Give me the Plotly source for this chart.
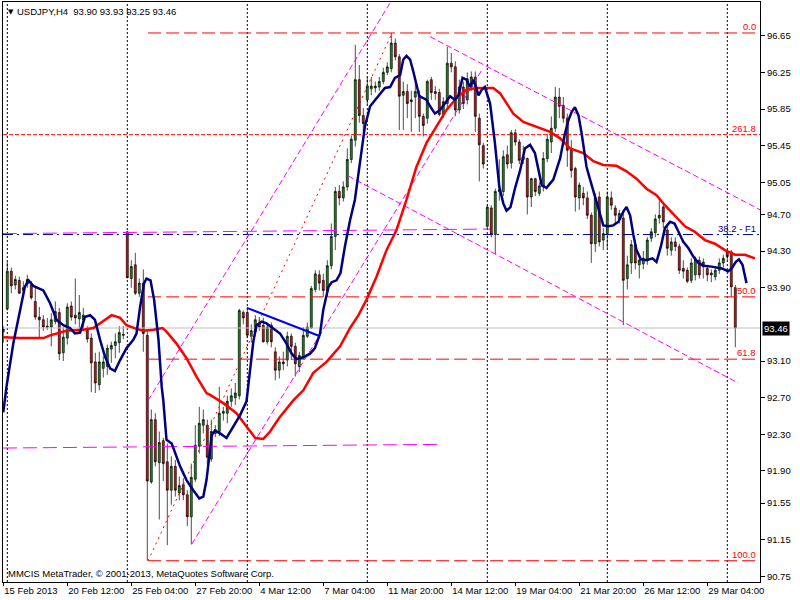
import plotly.graph_objects as go

# ---------------- candle data (USDJPY H4), one value per bar ----------------
open_px = [
    93.42, 93.67, 94.08, 93.93, 93.98, 93.87, 93.94, 93.93, 93.75, 93.58,
    93.55, 93.48, 93.47, 93.53, 93.63, 93.19, 93.35, 93.70, 93.60, 93.56,
    93.55, 93.44, 93.35, 93.09, 92.84, 93.02, 93.04, 93.23, 93.27, 93.30,
    93.38, 94.51, 94.00, 94.15, 93.84, 93.95, 93.38, 91.78, 92.46, 91.99,
    92.23, 92.00, 91.69, 91.95, 91.66, 91.75, 91.64, 91.40, 91.81, 92.17,
    92.40, 92.40, 92.03, 92.31, 92.33, 92.53, 92.53, 92.66, 92.70, 92.72,
    93.63, 93.63, 93.37, 93.42, 93.51, 93.49, 93.31, 93.49, 93.20, 93.00,
    93.09, 93.11, 93.37, 93.26, 93.04, 93.15, 93.37, 93.46, 93.88, 94.04,
    93.98, 93.87, 94.14, 94.46, 94.95, 94.88, 95.00, 95.30, 95.51, 96.17,
    95.78, 95.95, 96.07, 96.08, 96.09, 96.15, 96.25, 96.29, 96.57, 96.42,
    96.00, 96.04, 95.93, 95.98, 96.00, 95.77, 95.75, 96.17, 96.04, 96.03,
    95.79, 95.91, 96.35, 96.31, 95.84, 96.09, 95.95, 96.09, 96.20, 95.75,
    95.45, 94.57, 94.77, 94.48, 94.95, 94.95, 95.35, 95.26, 95.59, 95.49,
    95.33, 95.31, 94.89, 95.09, 94.93, 95.00, 95.31, 95.49, 95.64, 95.98,
    95.89, 95.75, 95.40, 95.20, 94.88, 94.93, 94.88, 94.69, 94.38, 94.89,
    94.42, 94.49, 94.88, 94.77, 94.64, 94.66, 94.00, 94.17, 94.37, 94.15,
    94.16, 94.20, 94.44, 94.50, 94.66, 94.78, 94.53, 94.31, 94.40, 94.35,
    94.11, 94.09, 93.98, 94.04, 94.20, 94.13, 94.11, 94.06, 94.02, 94.09,
    94.17, 94.29, 94.29, 93.90,
]
high_px = [
    93.48, 94.18, 94.12, 94.03, 94.02, 93.97, 94.04, 93.97, 93.90, 93.69,
    93.60, 93.57, 93.62, 93.75, 93.68, 93.47, 93.73, 93.75, 94.00, 93.82,
    93.68, 93.48, 93.40, 93.19, 93.20, 93.15, 93.28, 93.31, 93.40, 93.48,
    93.48, 94.52, 94.20, 94.28, 94.00, 94.10, 93.44, 92.57, 92.53, 92.33,
    92.26, 92.20, 92.06, 92.02, 91.84, 91.82, 91.69, 91.98, 92.40, 92.60,
    92.57, 92.46, 92.46, 92.40, 92.82, 92.60, 92.72, 92.80, 92.86, 93.67,
    93.65, 93.66, 93.50, 93.60, 93.58, 93.57, 93.50, 93.52, 93.25, 93.15,
    93.20, 93.42, 93.40, 93.30, 93.20, 93.47, 93.52, 93.92, 94.09, 94.09,
    94.05, 94.20, 94.60, 95.00, 95.02, 95.06, 95.42, 95.56, 96.55, 96.33,
    95.86, 96.20, 96.20, 96.15, 96.20, 96.30, 96.36, 96.68, 96.62, 96.45,
    96.15, 96.12, 96.05, 96.15, 96.05, 95.80, 96.17, 96.20, 96.10, 96.07,
    95.98, 96.53, 96.46, 96.37, 96.17, 96.15, 96.25, 96.26, 96.26, 95.80,
    95.48, 94.80, 94.80, 94.98, 95.30, 95.40, 95.45, 95.62, 95.63, 95.52,
    95.45, 95.32, 95.10, 95.10, 95.05, 95.38, 95.58, 95.77, 96.09, 96.08,
    95.98, 95.80, 95.51, 95.22, 95.05, 95.00, 94.95, 94.72, 94.93, 94.95,
    94.55, 94.95, 94.95, 94.80, 94.75, 94.73, 94.25, 94.42, 94.40, 94.25,
    94.30, 94.45, 94.55, 94.70, 94.88, 94.83, 94.60, 94.45, 94.45, 94.38,
    94.20, 94.12, 94.22, 94.24, 94.24, 94.22, 94.15, 94.10, 94.13, 94.22,
    94.26, 94.31, 94.31, 93.93,
]
low_px = [
    93.30, 93.65, 93.84, 93.88, 93.83, 93.82, 93.90, 93.77, 93.55, 93.35,
    93.43, 93.44, 93.26, 93.50, 93.11, 93.10, 93.28, 93.54, 93.50, 93.41,
    93.45, 93.30, 92.76, 92.75, 92.78, 92.92, 92.95, 93.08, 93.13, 93.19,
    93.34, 94.00, 93.90, 93.82, 93.80, 93.20, 90.92, 91.76, 91.95, 91.37,
    91.79, 91.09, 91.53, 91.62, 91.58, 91.58, 91.30, 91.10, 91.78, 92.09,
    92.31, 91.97, 92.00, 92.27, 92.28, 92.45, 92.42, 92.60, 92.62, 92.68,
    93.50, 93.35, 93.30, 93.38, 93.43, 93.30, 93.28, 93.25, 92.89, 92.91,
    93.00, 93.04, 93.11, 92.93, 92.98, 93.12, 93.35, 93.45, 93.85, 93.87,
    93.80, 93.80, 94.10, 94.31, 94.80, 94.84, 94.96, 95.26, 95.44, 95.70,
    95.60, 95.90, 96.00, 96.03, 96.05, 96.12, 96.22, 96.25, 96.38, 95.62,
    95.62, 95.75, 95.60, 95.75, 95.60, 95.55, 95.69, 95.95, 95.95, 95.77,
    95.75, 95.86, 96.25, 95.77, 95.80, 95.85, 95.90, 96.05, 95.60, 95.06,
    95.20, 94.53, 94.45, 94.27, 94.85, 94.90, 95.20, 95.20, 95.45, 95.25,
    95.25, 94.70, 94.78, 94.90, 94.90, 94.95, 95.27, 95.37, 95.60, 95.75,
    95.70, 95.22, 95.10, 94.73, 94.75, 94.80, 94.65, 94.17, 94.29, 94.35,
    94.31, 94.33, 94.75, 94.60, 94.60, 93.49, 93.88, 94.05, 94.10, 94.00,
    94.10, 94.15, 94.40, 94.45, 94.60, 94.55, 94.25, 94.25, 94.30, 94.05,
    94.00, 93.95, 93.95, 93.98, 94.00, 94.00, 93.97, 93.96, 93.98, 94.05,
    94.12, 94.20, 93.80, 93.25,
]
close_px = [
    93.45, 94.08, 93.92, 93.99, 93.84, 93.90, 93.99, 93.79, 93.58, 93.55,
    93.47, 93.47, 93.55, 93.64, 93.18, 93.36, 93.69, 93.58, 93.57, 93.63,
    93.60, 93.34, 93.08, 92.86, 93.09, 93.09, 93.24, 93.27, 93.31, 93.41,
    93.39, 94.01, 94.13, 93.84, 93.95, 93.40, 91.79, 92.46, 92.00, 92.21,
    91.98, 91.69, 91.95, 91.69, 91.74, 91.64, 91.40, 91.83, 92.18, 92.42,
    92.46, 92.05, 92.33, 92.35, 92.53, 92.55, 92.66, 92.72, 92.75, 93.65,
    93.57, 93.38, 93.43, 93.55, 93.47, 93.31, 93.47, 93.31, 93.00, 93.09,
    93.07, 93.37, 93.26, 93.07, 93.16, 93.38, 93.47, 93.89, 94.05, 93.95,
    93.87, 94.14, 94.46, 94.95, 94.88, 95.00, 95.30, 95.52, 96.17, 95.78,
    95.69, 96.10, 96.10, 96.10, 96.15, 96.25, 96.31, 96.57, 96.42, 95.99,
    96.04, 95.91, 95.95, 96.04, 95.77, 95.67, 96.15, 96.03, 96.02, 95.79,
    95.93, 96.35, 96.31, 95.84, 96.09, 95.91, 96.18, 96.20, 95.77, 95.46,
    95.25, 94.78, 94.48, 94.95, 94.97, 95.33, 95.25, 95.59, 95.49, 95.29,
    95.30, 94.89, 95.09, 94.95, 95.01, 95.31, 95.52, 95.64, 95.98, 95.88,
    95.75, 95.40, 95.18, 94.89, 95.02, 94.88, 94.69, 94.38, 94.88, 94.40,
    94.49, 94.89, 94.80, 94.69, 94.71, 93.98, 94.15, 94.37, 94.17, 94.20,
    94.22, 94.42, 94.51, 94.65, 94.69, 94.62, 94.33, 94.40, 94.35, 94.09,
    94.08, 93.97, 94.17, 94.21, 94.04, 94.18, 94.04, 94.04, 94.09, 94.17,
    94.22, 94.24, 93.91, 93.46,
]
bar_index = list(range(len(close_px)))

# ---------------- indicator lines ----------------
red_ma_bar = [0, 4.2, 10, 11.7, 15.8, 20, 22.5, 24.2, 27.1, 29.2, 30.8, 33.3, 35,
              37.5, 39.8, 40.8, 43.3, 45.8, 48.3, 50.8, 51.7, 55, 58.3, 60.9, 63,
              65, 66.7, 69, 72.5, 75, 77.5, 80.8, 84.2, 86.7, 88.8, 90.8, 93.3,
              95.8, 98.3, 100.8, 103.3, 105.8, 108.3, 110.8, 113.3, 115.8, 118.3,
              122.5, 124.2, 125.8, 127.5, 130, 133.3, 136.7, 139.2, 141.7, 145,
              147.5, 150, 153.3, 155.8, 158.3, 160.8, 163.3, 165.4, 167.9, 170.4,
              172.9, 175.4, 177.9, 180.4, 182.9, 185.4, 187.9]
red_ma_val = [93.36, 93.35, 93.35, 93.38, 93.43, 93.44, 93.46, 93.51, 93.60, 93.57,
              93.49, 93.45, 93.43, 93.44, 93.46, 93.42, 93.29, 93.13, 92.93, 92.75,
              92.73, 92.64, 92.53, 92.38, 92.26, 92.25, 92.33, 92.48, 92.67, 92.78,
              92.97, 93.09, 93.26, 93.46, 93.60, 93.77, 94.02, 94.31, 94.53, 94.86,
              95.22, 95.48, 95.66, 95.84, 95.97, 96.06, 96.08, 96.08, 96.02, 95.91,
              95.80, 95.71, 95.66, 95.60, 95.53, 95.42, 95.37, 95.28, 95.24, 95.23,
              95.17, 95.09, 94.98, 94.91, 94.80, 94.68, 94.57, 94.51, 94.42, 94.38,
              94.31, 94.26, 94.26, 94.22]

navy_ma_bar = [0, 0.8, 2.5, 4.2, 5.4, 6.3, 7.5, 10, 11.7, 13.3, 15, 16.7, 17.9, 19.2,
               20.4, 21.7, 22.9, 24.2, 25.4, 26.7, 27.9, 29.2, 30.8, 32.5, 33.3, 34.2,
               35.2, 35.8, 36.8, 37.7, 38.8, 39.6, 40, 40.8, 42.1, 44.2, 45.8, 47.5,
               49, 50, 50.8, 51.5, 52.1, 52.9, 54.2, 55.8, 57.5, 59.2, 60.8, 61.7,
               62.5, 63.3, 64.6, 65.8, 67.5, 69.2, 70.8, 72.1, 73.3, 75, 76.7, 77.9,
               79.2, 80, 81.3, 82.1, 83.3, 84.3, 85.4, 86.7, 87.9, 89.2, 90.4, 91.7,
               93.3, 95.4, 96.7, 97.9, 99.2, 100, 100.8, 101.7, 102.5, 103.3, 104,
               105, 105.8, 106.7, 107.9, 109.2, 110.4, 111.7, 112.9, 113.8, 114.8,
               115.8, 116.7, 117.5, 118.2, 118.8, 119.6, 120.4, 121.7, 122.9, 124,
               125, 125.8, 126.8, 127.9, 129.2, 130.4, 131.7, 132.9, 133.8, 134.6,
               135.8, 137.5, 139.2, 140.4, 141.3, 142.1, 142.9, 143.8, 144.6, 145.8,
               146.7, 147.9, 149.2, 150, 151.3, 152.5, 153.8, 155, 155.8, 156.7,
               157.5, 158.3, 159.4, 160.8, 162.3, 163.3, 164.4, 165.4, 166.7, 167.8,
               168.8, 170, 171.3, 172.5, 173.8, 175, 177.1, 179.6, 181.2, 182.1,
               183.1, 183.9, 184.8, 185.4, 185.8]
navy_ma_val = [92.54, 92.82, 93.29, 93.66, 93.91, 93.98, 93.92, 93.87, 93.73, 93.55,
               93.49, 93.46, 93.40, 93.41, 93.58, 93.60, 93.55, 93.33, 93.15, 93.02,
               92.99, 93.11, 93.24, 93.33, 93.40, 93.69, 93.95, 94.00, 93.98, 93.77,
               93.33, 92.82, 92.67, 92.24, 92.20, 91.95, 91.80, 91.69, 91.60, 91.62,
               91.80, 92.06, 92.29, 92.34, 92.31, 92.26, 92.38, 92.51, 92.66, 92.97,
               93.31, 93.49, 93.53, 93.51, 93.45, 93.40, 93.29, 93.18, 93.12, 93.14,
               93.18, 93.24, 93.40, 93.66, 93.91, 93.96, 93.98, 94.06, 94.35, 94.64,
               94.86, 95.29, 95.66, 95.88, 95.97, 96.08, 96.09, 96.19, 96.22, 96.39,
               96.43, 96.39, 96.26, 96.13, 95.99, 95.97, 95.95, 95.88, 95.80, 95.84,
               95.91, 95.99, 95.95, 96.00, 96.19, 96.17, 96.09, 96.17, 96.09, 96.00,
               96.06, 96.09, 95.91, 95.48, 95.00, 94.82, 94.74, 94.78, 94.98, 95.18,
               95.42, 95.46, 95.37, 95.18, 95.02, 94.99, 95.08, 95.31, 95.58, 95.73,
               95.82, 95.87, 95.78, 95.58, 95.22, 95.08, 94.89, 94.71, 94.58, 94.57,
               94.58, 94.62, 94.73, 94.78, 94.69, 94.48, 94.31, 94.21, 94.20, 94.22,
               94.18, 94.35, 94.55, 94.62, 94.60, 94.51, 94.40, 94.33, 94.24, 94.17,
               94.14, 94.13, 94.11, 94.08, 94.11, 94.18, 94.21, 94.15, 94.04, 93.95]

# ---------------- drawn objects (bar index, price) ----------------
trend_blue_bar = [60.9, 79.2]
trend_blue_val = [93.68, 93.37]
chan_up_a_bar = [36.2, 97.0]
chan_up_a_val = [92.67, 97.03]
chan_up_b_bar = [47.1, 119.7]
chan_up_b_val = [91.10, 96.28]
chan_dn_a_bar = [106.7, 189.2]
chan_dn_a_val = [96.64, 94.75]
chan_dn_b_bar = [86.2, 183.7]
chan_dn_b_val = [95.12, 92.86]
fib_diag_bar = [36.2, 97.2]
fib_diag_val = [90.92, 96.68]
hline_mag_hi_bar = [-0.1, 121.7]
hline_mag_hi_val = [94.49, 94.54]
hline_mag_lo_bar = [-0.1, 109.2]
hline_mag_lo_val = [92.15, 92.19]

fib_start_bar = 36.2
fib_labels = ["0.0", "50.0", "61.8", "100.0"]
fib_prices = [96.68, 93.80, 93.12, 90.92]
ext_label = "261.8"
ext_price = 95.57
f1_label = "38.2 - F1"
f1_price = 94.48
last_price = 93.46

week_start_bars = [1, 31, 61, 91, 121, 151, 181]
time_tick_bars = [0, 16, 32, 48, 64, 80, 96, 112, 128, 144, 160, 176]
time_tick_labels = ["15 Feb 2013", "20 Feb 12:00", "25 Feb 04:00", "27 Feb 20:00",
                    "4 Mar 12:00", "7 Mar 04:00", "11 Mar 20:00", "14 Mar 12:00",
                    "19 Mar 04:00", "21 Mar 20:00", "26 Mar 12:00", "29 Mar 04:00"]
price_ticks = [96.65, 96.25, 95.85, 95.45, 95.05, 94.70, 94.30, 93.90, 93.10,
               92.70, 92.30, 91.90, 91.55, 91.15, 90.75]

header_text = "USDJPY,H4  93.90 93.93 93.25 93.46"
copyright_text = "MMCIS MetaTrader, \u00a9 2001-2013, MetaQuotes Software Corp."

# ---------------- view settings ----------------
X_RANGE = [-0.075, 189.175]
Y_RANGE = [90.688, 97.018]
FONT = "Liberation Sans, Arial, sans-serif"
FS = 9.5

fig = go.Figure()

# current price line (behind candles)
fig.add_trace(go.Scatter(x=[X_RANGE[0], X_RANGE[1]], y=[last_price, last_price], mode="lines",
                         line=dict(color="#c0c0c0", width=1), hoverinfo="skip"))

fig.add_trace(go.Candlestick(
    x=bar_index, open=open_px, high=high_px, low=low_px, close=close_px,
    increasing=dict(fillcolor="#00a000", line=dict(color="black", width=0.7)),
    decreasing=dict(fillcolor="#ff0000", line=dict(color="black", width=0.7)),
    whiskerwidth=0, hoverinfo="skip"))

def line(xs, ys, color, width, dash="solid"):
    fig.add_trace(go.Scatter(x=xs, y=ys, mode="lines", hoverinfo="skip",
                             line=dict(color=color, width=width, dash=dash)))

# horizontal magenta levels
line(hline_mag_hi_bar, hline_mag_hi_val, "#ff00ff", 1, "14px,6px")
line(hline_mag_lo_bar, hline_mag_lo_val, "#ff00ff", 1, "14px,6px")
# F1 38.2 level
line([X_RANGE[0], X_RANGE[1]], [f1_price, f1_price], "#000080", 1, "10px,4px,2px,4px")
# 261.8 expansion level
line([X_RANGE[0], X_RANGE[1]], [ext_price, ext_price], "#ff0000", 1, "4px,2px")
# Fibonacci retracement levels
for p in fib_prices:
    line([fib_start_bar, X_RANGE[1]], [p, p], "#ff0000", 1, "13px,5px")
line(fib_diag_bar, fib_diag_val, "#ff0000", 1, "2px,4px")

# channels
line(chan_up_a_bar, chan_up_a_val, "#ff00ff", 1, "6px,3px")
line(chan_up_b_bar, chan_up_b_val, "#ff00ff", 1, "6px,3px")
line(chan_dn_a_bar, chan_dn_a_val, "#ff00ff", 1, "6px,3px")
line(chan_dn_b_bar, chan_dn_b_val, "#ff00ff", 1, "6px,3px")

# indicators
line(red_ma_bar, red_ma_val, "#ff0000", 2.5)
line(navy_ma_bar, navy_ma_val, "#000080", 2.5)
line(trend_blue_bar, trend_blue_val, "#0000ff", 2)

shapes = []
for b in week_start_bars:
    shapes.append(dict(type="line", xref="x", yref="paper", x0=b, x1=b, y0=0, y1=1,
                       line=dict(color="black", width=1, dash="2px,2px"), layer="below"))

annotations = []
for lab, p in zip(fib_labels, fib_prices):
    annotations.append(dict(x=X_RANGE[1] - 0.6, y=p, xref="x", yref="y", text=lab,
                            showarrow=False, xanchor="right", yanchor="bottom", yshift=-1,
                            font=dict(family=FONT, size=FS, color="#ff0000")))
annotations.append(dict(x=X_RANGE[1] - 0.6, y=ext_price, xref="x", yref="y", text=ext_label,
                        showarrow=False, xanchor="right", yanchor="bottom", yshift=-1,
                        font=dict(family=FONT, size=FS, color="#ff0000")))
annotations.append(dict(x=X_RANGE[1] - 0.6, y=f1_price, xref="x", yref="y", text=f1_label,
                        showarrow=False, xanchor="right", yanchor="bottom", yshift=-1,
                        font=dict(family=FONT, size=FS, color="#000080")))
# current price box
annotations.append(dict(x=1, y=last_price, xref="paper", yref="y", text=f"{last_price:.2f}",
                        showarrow=False, xanchor="left", yanchor="middle", xshift=2,
                        bgcolor="black", borderpad=1,
                        font=dict(family=FONT, size=FS, color="white")))
# header
annotations.append(dict(x=0, y=1, xref="paper", yref="paper", text="\u25bc",
                        showarrow=False, xanchor="left", yanchor="top", xshift=3, yshift=-4,
                        font=dict(family="DejaVu Sans", size=7, color="black")))
annotations.append(dict(x=0, y=1, xref="paper", yref="paper", text=header_text,
                        showarrow=False, xanchor="left", yanchor="top", xshift=12, yshift=-2,
                        font=dict(family=FONT, size=FS, color="black")))
annotations.append(dict(x=0, y=0, xref="paper", yref="paper", text=copyright_text,
                        showarrow=False, xanchor="left", yanchor="bottom", xshift=3, yshift=1,
                        font=dict(family=FONT, size=FS, color="black")))

fig.update_layout(
    template="none",
    width=800, height=600,
    margin=dict(l=3, r=40, t=2, b=18, pad=0),
    paper_bgcolor="white", plot_bgcolor="white",
    showlegend=False,
    font=dict(family=FONT, size=FS, color="black"),
    shapes=shapes, annotations=annotations,
    xaxis=dict(range=X_RANGE, tickvals=time_tick_bars, ticktext=time_tick_labels,
               ticks="outside", ticklen=3, tickcolor="black", ticklabelposition="outside right",
               tickangle=0, automargin=False,
               showgrid=False, zeroline=False, showline=True, linecolor="black", linewidth=1,
               mirror=True, rangeslider=dict(visible=False),
               tickfont=dict(family=FONT, size=FS, color="black")),
    yaxis=dict(range=Y_RANGE, side="right", tickvals=price_ticks,
               ticktext=[f"{v:.2f}" for v in price_ticks], automargin=False,
               ticks="outside", ticklen=4, tickcolor="black",
               showgrid=False, zeroline=False, showline=True, linecolor="black", linewidth=1,
               mirror=True, tickfont=dict(family=FONT, size=FS, color="black")),
)

fig.write_html("out.html", config={"displayModeBar": False, "staticPlot": True},
               post_script="document.body.style.margin='0';document.body.style.overflow='hidden';")
